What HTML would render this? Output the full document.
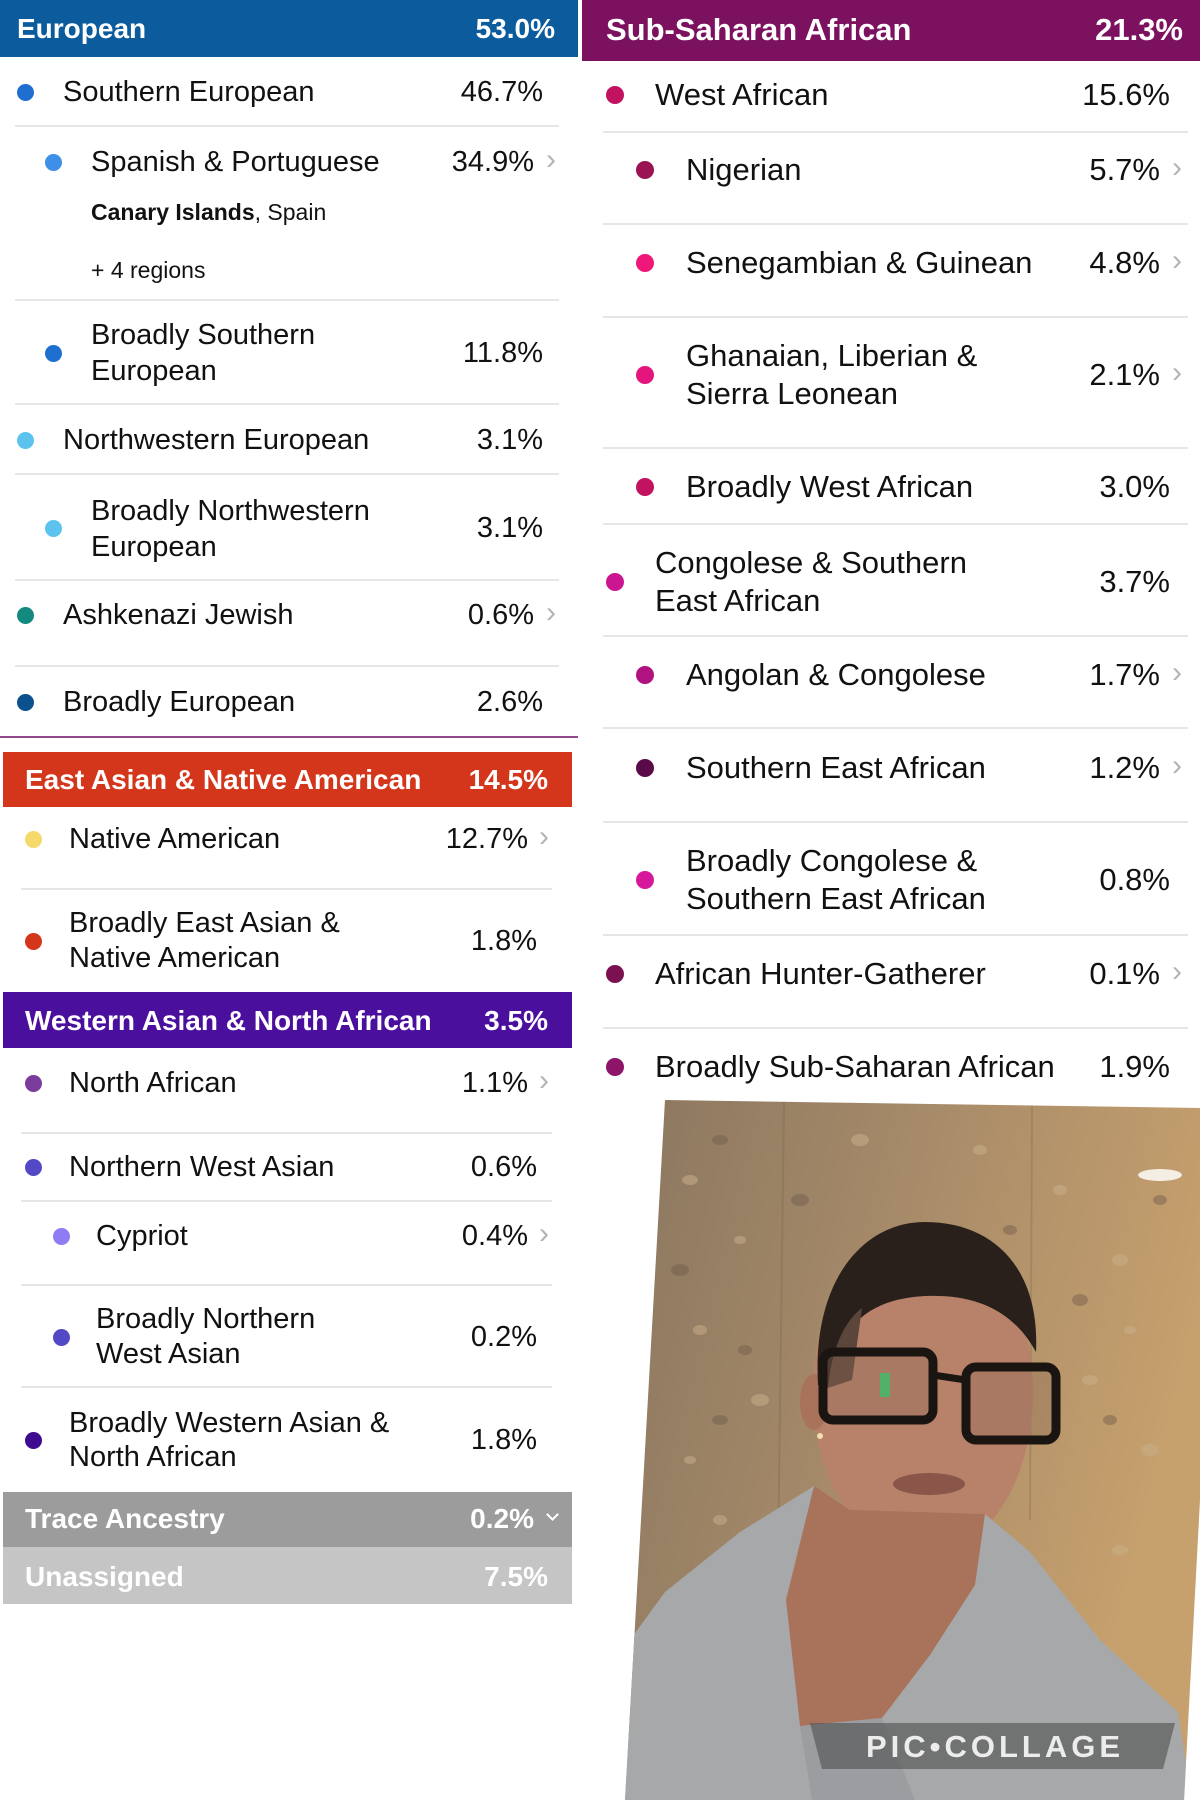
<!DOCTYPE html>
<html><head><meta charset="utf-8">
<style>
html,body{margin:0;padding:0;background:#fff;}
body{width:1200px;height:1800px;position:relative;overflow:hidden;font-family:"Liberation Sans",Arial,sans-serif;color:#111;}
.a{position:absolute;}
.t{position:absolute;font-size:29px;line-height:40px;white-space:nowrap;color:#111;}
.r{font-size:31px;}
.t2{position:absolute;font-size:29px;line-height:36px;white-space:nowrap;color:#111;}
.r2{position:absolute;font-size:31px;line-height:38px;white-space:nowrap;color:#111;}
.p{position:absolute;font-size:29px;line-height:40px;white-space:nowrap;text-align:right;color:#111;}
.pr{font-size:31px;}
.h{position:absolute;font-size:28px;font-weight:bold;line-height:40px;color:#fff;white-space:nowrap;}
.hr{font-size:31px;}
.d{position:absolute;width:17px;height:17px;border-radius:50%;}
.dr{width:18px;height:18px;}
.s{position:absolute;height:2px;background:#e6e6e6;}
.c{position:absolute;font-size:30px;line-height:40px;color:#b4b4b4;}
.sm{position:absolute;font-size:23px;line-height:30px;white-space:nowrap;color:#111;}
</style></head><body>

<svg class="a" style="left:0;top:0" width="1200" height="1800" viewBox="0 0 1200 1800">
<defs>
<clipPath id="ph"><polygon points="665,1100 1200,1108 1200,1500 1184,1800 625,1800"/></clipPath>
<linearGradient id="bg" x1="0" y1="0" x2="1" y2="0.3">
<stop offset="0" stop-color="#88755f"/><stop offset="0.5" stop-color="#a68a69"/><stop offset="1" stop-color="#c6a06d"/>
</linearGradient>
</defs>
<g clip-path="url(#ph)">
<rect x="600" y="1090" width="600" height="720" fill="url(#bg)"/>
<g fill="#c9ae8a" opacity="0.55">
<ellipse cx="690" cy="1180" rx="8" ry="5"/><ellipse cx="740" cy="1240" rx="6" ry="4"/><ellipse cx="860" cy="1140" rx="9" ry="6"/>
<ellipse cx="1060" cy="1190" rx="7" ry="5"/><ellipse cx="1120" cy="1260" rx="8" ry="6"/><ellipse cx="700" cy="1330" rx="7" ry="5"/>
<ellipse cx="760" cy="1400" rx="9" ry="6"/><ellipse cx="1090" cy="1380" rx="8" ry="5"/><ellipse cx="1150" cy="1450" rx="9" ry="6"/>
<ellipse cx="690" cy="1460" rx="6" ry="4"/><ellipse cx="1130" cy="1330" rx="6" ry="4"/><ellipse cx="980" cy="1150" rx="7" ry="5"/>
<ellipse cx="1120" cy="1550" rx="8" ry="5"/><ellipse cx="720" cy="1520" rx="7" ry="5"/>
</g>
<g fill="#6e5c4b" opacity="0.45">
<ellipse cx="720" cy="1140" rx="8" ry="5"/><ellipse cx="800" cy="1200" rx="9" ry="6"/><ellipse cx="1010" cy="1230" rx="7" ry="5"/>
<ellipse cx="680" cy="1270" rx="9" ry="6"/><ellipse cx="745" cy="1350" rx="7" ry="5"/><ellipse cx="1080" cy="1300" rx="8" ry="6"/>
<ellipse cx="1160" cy="1200" rx="7" ry="5"/><ellipse cx="720" cy="1420" rx="8" ry="5"/><ellipse cx="1110" cy="1420" rx="7" ry="5"/>
</g>
<line x1="784" y1="1100" x2="778" y2="1560" stroke="#7a6754" stroke-width="2" opacity="0.35"/>
<line x1="1032" y1="1105" x2="1030" y2="1520" stroke="#7a6754" stroke-width="2" opacity="0.3"/>
<ellipse cx="1160" cy="1175" rx="22" ry="6" fill="#f4eee4"/>
<!-- head -->
<ellipse cx="923" cy="1392" rx="110" ry="165" fill="#b8826a"/>
<ellipse cx="814" cy="1402" rx="14" ry="28" fill="#a8735a"/>
<circle cx="820" cy="1436" r="3" fill="#f0e0b0"/>
<path d="M818,1385 C812,1282 862,1222 925,1222 C995,1222 1040,1270 1036,1352 C1012,1308 972,1294 925,1296 C872,1299 838,1322 828,1388 Z" fill="#2a201b"/>
<path d="M828,1388 C832,1345 846,1320 862,1308 L852,1380 Z" fill="#5c463b"/>
<!-- glasses -->
<rect x="823" y="1352" width="110" height="68" rx="10" fill="#8c6a55" fill-opacity="0.35" stroke="#1b1512" stroke-width="9"/>
<rect x="966" y="1367" width="90" height="73" rx="10" fill="#8c6a55" fill-opacity="0.35" stroke="#1b1512" stroke-width="9"/>
<line x1="933" y1="1375" x2="966" y2="1380" stroke="#1b1512" stroke-width="7"/>
<rect x="880" y="1373" width="10" height="24" fill="#3bbf6a" opacity="0.8"/>
<ellipse cx="929" cy="1484" rx="36" ry="11" fill="#8a5649"/>
<!-- hoodie -->
<polygon points="625,1800 630,1640 665,1592 740,1532 814,1486 850,1512 985,1514 1030,1552 1100,1640 1178,1712 1192,1800" fill="#a7a8aa"/>
<polygon points="814,1486 850,1510 985,1514 975,1585 930,1655 882,1718 800,1726 786,1600" fill="#a8735a"/>
<polygon points="800,1726 882,1718 915,1800 812,1800" fill="#9c9da0"/>
<polygon points="810,1723 1175,1723 1163,1769 822,1769" fill="#555" fill-opacity="0.65"/>
</g>
<text x="995" y="1757" font-family="Liberation Sans, sans-serif" font-size="31" font-weight="bold" fill="#ececec" text-anchor="middle" letter-spacing="4">PIC•COLLAGE</text>
</svg>

<!-- LEFT: European -->
<div class="a" style="left:0;top:0;width:578px;height:57px;background:#0b5b9d"></div>
<div class="h" style="left:17px;top:9px">European</div>
<div class="h" style="right:645px;top:9px">53.0%</div>

<div class="d" style="left:17px;top:84px;background:#1f6fd0"></div>
<div class="t" style="left:63px;top:72px">Southern European</div>
<div class="p" style="right:657px;top:72px">46.7%</div>
<div class="s" style="left:15px;top:125px;width:544px"></div>

<div class="d" style="left:45px;top:154px;background:#3e8fe8"></div>
<div class="t" style="left:91px;top:142px">Spanish &amp; Portuguese</div>
<div class="p" style="right:666px;top:142px">34.9%</div>
<div class="c" style="left:546px;top:140px">›</div>
<div class="sm" style="left:91px;top:197px"><b>Canary Islands</b>, Spain</div>
<div class="sm" style="left:91px;top:255px">+ 4 regions</div>
<div class="s" style="left:15px;top:299px;width:544px"></div>

<div class="d" style="left:45px;top:345px;background:#1f6fd0"></div>
<div class="t2" style="left:91px;top:317px">Broadly Southern<br>European</div>
<div class="p" style="right:657px;top:333px">11.8%</div>
<div class="s" style="left:15px;top:403px;width:544px"></div>

<div class="d" style="left:17px;top:432px;background:#5cc3ef"></div>
<div class="t" style="left:63px;top:420px">Northwestern European</div>
<div class="p" style="right:657px;top:420px">3.1%</div>
<div class="s" style="left:15px;top:473px;width:544px"></div>

<div class="d" style="left:45px;top:520px;background:#5cc3ef"></div>
<div class="t2" style="left:91px;top:493px">Broadly Northwestern<br>European</div>
<div class="p" style="right:657px;top:508px">3.1%</div>
<div class="s" style="left:15px;top:579px;width:544px"></div>

<div class="d" style="left:17px;top:607px;background:#13897f"></div>
<div class="t" style="left:63px;top:595px">Ashkenazi Jewish</div>
<div class="p" style="right:666px;top:595px">0.6%</div>
<div class="c" style="left:546px;top:593px">›</div>
<div class="s" style="left:15px;top:665px;width:544px"></div>

<div class="d" style="left:17px;top:694px;background:#0b5190"></div>
<div class="t" style="left:63px;top:682px">Broadly European</div>
<div class="p" style="right:657px;top:682px">2.6%</div>
<div class="a" style="left:0;top:736px;width:578px;height:2px;background:#93468a"></div>

<!-- East Asian -->
<div class="a" style="left:3px;top:752px;width:569px;height:55px;background:#d4361c"></div>
<div class="h" style="left:25px;top:760px">East Asian &amp; Native American</div>
<div class="h" style="right:652px;top:760px">14.5%</div>

<div class="d" style="left:25px;top:831px;background:#f6d96b"></div>
<div class="t" style="left:69px;top:819px">Native American</div>
<div class="p" style="right:672px;top:819px">12.7%</div>
<div class="c" style="left:539px;top:817px">›</div>
<div class="s" style="left:21px;top:888px;width:531px"></div>

<div class="d" style="left:25px;top:933px;background:#d4361c"></div>
<div class="t2" style="left:69px;top:906px;line-height:35px">Broadly East Asian &amp;<br>Native American</div>
<div class="p" style="right:663px;top:921px">1.8%</div>

<!-- Western Asian -->
<div class="a" style="left:3px;top:992px;width:569px;height:56px;background:#4b0f9e"></div>
<div class="h" style="left:25px;top:1001px">Western Asian &amp; North African</div>
<div class="h" style="right:652px;top:1001px">3.5%</div>

<div class="d" style="left:25px;top:1075px;background:#7a3d9c"></div>
<div class="t" style="left:69px;top:1063px">North African</div>
<div class="p" style="right:672px;top:1063px">1.1%</div>
<div class="c" style="left:539px;top:1061px">›</div>
<div class="s" style="left:21px;top:1132px;width:531px"></div>

<div class="d" style="left:25px;top:1159px;background:#5349c6"></div>
<div class="t" style="left:69px;top:1147px">Northern West Asian</div>
<div class="p" style="right:663px;top:1147px">0.6%</div>
<div class="s" style="left:21px;top:1200px;width:531px"></div>

<div class="d" style="left:53px;top:1228px;background:#8e7cf4"></div>
<div class="t" style="left:96px;top:1216px">Cypriot</div>
<div class="p" style="right:672px;top:1216px">0.4%</div>
<div class="c" style="left:539px;top:1214px">›</div>
<div class="s" style="left:21px;top:1284px;width:531px"></div>

<div class="d" style="left:53px;top:1329px;background:#5349c6"></div>
<div class="t2" style="left:96px;top:1302px;line-height:35px">Broadly Northern<br>West Asian</div>
<div class="p" style="right:663px;top:1317px">0.2%</div>
<div class="s" style="left:21px;top:1386px;width:531px"></div>

<div class="d" style="left:25px;top:1432px;background:#3f0c91"></div>
<div class="t2" style="left:69px;top:1406px;line-height:34px">Broadly Western Asian &amp;<br>North African</div>
<div class="p" style="right:663px;top:1420px">1.8%</div>

<!-- Trace / Unassigned -->
<div class="a" style="left:3px;top:1492px;width:569px;height:55px;background:#9c9c9c"></div>
<div class="h" style="left:25px;top:1499px">Trace Ancestry</div>
<div class="h" style="right:666px;top:1499px">0.2%</div>
<div class="a" style="left:548px;top:1510px;width:7px;height:7px;border-right:2px solid #fff;border-bottom:2px solid #fff;transform:rotate(45deg)"></div>
<div class="a" style="left:3px;top:1547px;width:569px;height:57px;background:#c5c5c5"></div>
<div class="h" style="left:25px;top:1557px">Unassigned</div>
<div class="h" style="right:652px;top:1557px">7.5%</div>

<!-- RIGHT: Sub-Saharan -->
<div class="a" style="left:582px;top:0;width:618px;height:61px;background:#7c125f"></div>
<div class="h hr" style="left:606px;top:10px">Sub-Saharan African</div>
<div class="h hr" style="right:17px;top:10px">21.3%</div>

<div class="d dr" style="left:606px;top:86px;background:#c1135f"></div>
<div class="t r" style="left:655px;top:75px">West African</div>
<div class="p pr" style="right:30px;top:75px">15.6%</div>
<div class="s" style="left:603px;top:131px;width:585px"></div>

<div class="d dr" style="left:636px;top:161px;background:#9a1352"></div>
<div class="t r" style="left:686px;top:150px">Nigerian</div>
<div class="p pr" style="right:40px;top:150px">5.7%</div>
<div class="c" style="left:1172px;top:148px">›</div>
<div class="s" style="left:603px;top:223px;width:585px"></div>

<div class="d dr" style="left:636px;top:254px;background:#f0177a"></div>
<div class="t r" style="left:686px;top:243px">Senegambian &amp; Guinean</div>
<div class="p pr" style="right:40px;top:243px">4.8%</div>
<div class="c" style="left:1172px;top:241px">›</div>
<div class="s" style="left:603px;top:316px;width:585px"></div>

<div class="d dr" style="left:636px;top:366px;background:#e4157c"></div>
<div class="r2" style="left:686px;top:337px">Ghanaian, Liberian &amp;<br>Sierra Leonean</div>
<div class="p pr" style="right:40px;top:355px">2.1%</div>
<div class="c" style="left:1172px;top:353px">›</div>
<div class="s" style="left:603px;top:447px;width:585px"></div>

<div class="d dr" style="left:636px;top:478px;background:#c1135f"></div>
<div class="t r" style="left:686px;top:467px">Broadly West African</div>
<div class="p pr" style="right:30px;top:467px">3.0%</div>
<div class="s" style="left:603px;top:523px;width:585px"></div>

<div class="d dr" style="left:606px;top:573px;background:#cc1691"></div>
<div class="r2" style="left:655px;top:544px">Congolese &amp; Southern<br>East African</div>
<div class="p pr" style="right:30px;top:562px">3.7%</div>
<div class="s" style="left:603px;top:635px;width:585px"></div>

<div class="d dr" style="left:636px;top:666px;background:#b0137f"></div>
<div class="t r" style="left:686px;top:655px">Angolan &amp; Congolese</div>
<div class="p pr" style="right:40px;top:655px">1.7%</div>
<div class="c" style="left:1172px;top:653px">›</div>
<div class="s" style="left:603px;top:727px;width:585px"></div>

<div class="d dr" style="left:636px;top:759px;background:#5a0b47"></div>
<div class="t r" style="left:686px;top:748px">Southern East African</div>
<div class="p pr" style="right:40px;top:748px">1.2%</div>
<div class="c" style="left:1172px;top:746px">›</div>
<div class="s" style="left:603px;top:821px;width:585px"></div>

<div class="d dr" style="left:636px;top:871px;background:#d8189a"></div>
<div class="r2" style="left:686px;top:842px">Broadly Congolese &amp;<br>Southern East African</div>
<div class="p pr" style="right:30px;top:860px">0.8%</div>
<div class="s" style="left:603px;top:934px;width:585px"></div>

<div class="d dr" style="left:606px;top:965px;background:#7b1150"></div>
<div class="t r" style="left:655px;top:954px">African Hunter-Gatherer</div>
<div class="p pr" style="right:40px;top:954px">0.1%</div>
<div class="c" style="left:1172px;top:952px">›</div>
<div class="s" style="left:603px;top:1027px;width:585px"></div>

<div class="d dr" style="left:606px;top:1058px;background:#8d1468"></div>
<div class="t r" style="left:655px;top:1047px">Broadly Sub-Saharan African</div>
<div class="p pr" style="right:30px;top:1047px">1.9%</div>

</body></html>
